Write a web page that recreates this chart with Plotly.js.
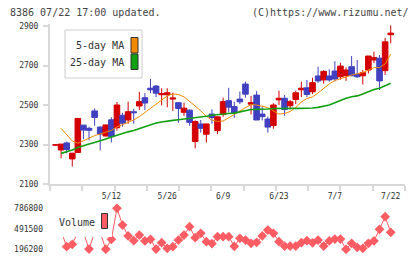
<!DOCTYPE html>
<html><head><meta charset="utf-8">
<script src="https://cdn.plot.ly/plotly-3.0.1.min.js"></script>
<style>html,body{margin:0;padding:0;background:#fff}#c{width:420px;height:259px}</style>
</head><body><div id="c"></div>
<script>
const dates = ['4/23','4/24','4/25','4/28','4/30','5/1','5/2','5/7','5/8','5/9','5/12','5/13','5/14','5/15','5/16','5/19','5/20','5/21','5/22','5/23','5/26','5/27','5/28','5/29','5/30','6/2','6/3','6/4','6/5','6/6','6/9','6/10','6/11','6/12','6/13','6/16','6/17','6/18','6/19','6/20','6/23','6/24','6/25','6/26','6/27','6/30','7/1','7/2','7/3','7/4','7/7','7/8','7/9','7/10','7/11','7/14','7/15','7/16','7/17','7/18','7/22'];
const openP = [2297,2272,2308,2227,2260,2398,2382,2470,2388,2343,2425,2385,2448,2424,2466,2495,2537,2585,2596,2552,2552,2530,2512,2463,2474,2315,2404,2352,2454,2370,2452,2522,2492,2530,2606,2504,2550,2454,2429,2396,2526,2534,2496,2528,2577,2587,2567,2647,2627,2647,2672,2643,2648,2694,2655,2648,2677,2728,2737,2674,2856];
const closeP = [2298,2302,2275,2256,2432,2373,2372,2437,2353,2399,2340,2500,2408,2466,2461,2517,2510,2577,2560,2558,2562,2535,2482,2484,2412,2416,2382,2404,2437,2440,2517,2489,2459,2516,2555,2512,2424,2441,2388,2500,2534,2477,2517,2562,2585,2553,2613,2622,2670,2627,2632,2697,2677,2648,2643,2664,2748,2740,2622,2820,2864];
const highP = [2300,2302,2315,2258,2433,2400,2390,2483,2392,2401,2438,2515,2460,2517,2480,2567,2560,2632,2601,2585,2585,2563,2513,2512,2478,2422,2424,2406,2478,2442,2537,2587,2517,2568,2618,2546,2570,2492,2441,2509,2572,2551,2525,2572,2618,2627,2638,2694,2676,2681,2722,2714,2690,2748,2728,2677,2748,2770,2753,2840,2903];
const lowP = [2295,2230,2255,2188,2258,2327,2322,2395,2270,2341,2310,2370,2390,2405,2405,2475,2475,2560,2540,2498,2488,2470,2410,2445,2395,2280,2360,2310,2405,2353,2440,2462,2435,2505,2537,2452,2424,2422,2360,2380,2500,2446,2478,2505,2540,2540,2555,2612,2608,2618,2620,2628,2622,2646,2638,2604,2660,2712,2576,2652,2812];
const ma5 = [null,2382,2348,2318,2306,2320,2333,2345,2353,2361,2371,2389,2401,2411,2424,2441,2462,2480,2505,2525,2546,2556,2553,2541,2520,2495,2470,2442,2424,2417,2419,2434,2452,2470,2487,2502,2500,2495,2487,2470,2454,2457,2467,2487,2515,2533,2541,2561,2586,2607,2624,2632,2642,2652,2657,2664,2677,2689,2690,2708,2758];
const ma25 = [null,2255,2264,2272,2285,2292,2302,2310,2318,2328,2338,2348,2356,2364,2371,2381,2391,2401,2409,2414,2419,2422,2425,2428,2432,2434,2439,2443,2448,2452,2454,2457,2459,2464,2471,2477,2478,2478,2480,2482,2483,2483,2483,2483,2483,2483,2485,2488,2495,2500,2511,2523,2534,2542,2546,2556,2568,2578,2585,2596,2610];
const volume = [480000,460000,233700,268000,440000,440000,200000,440000,440000,198000,340000,786800,546000,388000,320000,402000,316000,340000,200000,292000,211000,234000,330000,402000,522000,363000,427000,306000,278000,378000,378000,378000,240000,354000,330000,283000,297000,388000,474000,427000,306000,243000,243000,243000,292000,320000,290000,330000,243000,316000,343000,343000,196200,283000,225000,211000,283000,316000,484000,666000,441000];
const priceTicks = [2100,2300,2500,2700,2900];
const volTicks = [196200,491500,786800];
const labelIdx = [10,20,30,40,50,60];
const seriesNames = ['5-day MA','25-day MA','Volume'];

const W=420,H=259;
const fx=p=>p/W, fy=p=>1-p/H;
const xs = dates.map((d,i)=>i);
const xr = [-0.984, 62.555];
const tickPos = Array.from({length:12},(_,k)=>xr[0]+k*(xr[1]-xr[0])/11);
const FONT = 'DejaVu Sans Mono, monospace';
const RED='#d40000', BLUE='#4040c0', ORANGE='#f08a00', GREEN='#10a010', VOL='#ff5c64';

const traces = [
 {type:'candlestick', x:xs, open:openP, high:highP, low:lowP, close:closeP,
  increasing:{line:{color:RED,width:1},fillcolor:RED},
  decreasing:{line:{color:BLUE,width:1},fillcolor:BLUE},
  whiskerwidth:0, xaxis:'x', yaxis:'y', showlegend:false, hoverinfo:'skip'},
 {type:'scatter', mode:'lines', x:xs, y:ma5, line:{color:ORANGE,width:1}, xaxis:'x', yaxis:'y', showlegend:false, hoverinfo:'skip'},
 {type:'scatter', mode:'lines', x:xs, y:ma25, line:{color:GREEN,width:1.6}, xaxis:'x', yaxis:'y', showlegend:false, hoverinfo:'skip'},
 {type:'scatter', mode:'lines+markers', x:xs, y:volume, line:{color:VOL,width:1},
  marker:{symbol:'diamond',size:7.5,color:VOL}, xaxis:'x3', yaxis:'y2', showlegend:false, hoverinfo:'skip'},
 {type:'scatter', mode:'markers', x:[labelIdx[0]], y:[priceTicks[0]], marker:{opacity:0}, xaxis:'x2', yaxis:'y', showlegend:false, hoverinfo:'skip'}
];

const tickFont = {family:FONT,size:8,color:'#333'};
const layout = {
 width:W, height:H, margin:{l:0,r:0,t:0,b:0,pad:0,autoexpand:false},
 paper_bgcolor:'#fff', plot_bgcolor:'rgba(0,0,0,0)', showlegend:false,
 boxgap:0, boxgroupgap:0,
 xaxis:{range:xr, domain:[fx(50),fx(405)], anchor:'y', tickmode:'array', tickvals:tickPos, ticktext:tickPos.map(()=>''),
   ticks:'outside', ticklen:5, tickcolor:'#d8d8d8', tickwidth:2, showline:true, linecolor:'#d8d8d8', linewidth:2,
   showgrid:false, zeroline:false, rangeslider:{visible:false}, fixedrange:true},
 xaxis2:{range:xr, overlaying:'x', anchor:'y', side:'bottom', tickmode:'array', tickvals:labelIdx, ticktext:labelIdx.map(i=>dates[i]),
   ticks:'', showline:false, showgrid:false, zeroline:false, tickfont:tickFont, ticklabelstandoff:6, fixedrange:true},
 yaxis:{range:[2100,2910.1], domain:[fy(184),fy(24)], anchor:'x', tickmode:'array', tickvals:priceTicks,
   ticks:'outside', ticklen:5, tickcolor:'#d8d8d8', tickwidth:2, showline:true, linecolor:'#d8d8d8', linewidth:2,
   showgrid:false, zeroline:false, tickfont:tickFont, ticklabelstandoff:3, fixedrange:true},
 xaxis3:{range:xr, domain:[fx(50),fx(405)], anchor:'y2', showticklabels:false, ticks:'', showline:false, showgrid:false, zeroline:false, fixedrange:true},
 yaxis2:{range:[128500,863150], domain:[fy(254),fy(203)], anchor:'x3', tickmode:'array', tickvals:volTicks, ticktext:volTicks.map(v=>String(v)),
   ticks:'', showline:false, showgrid:false, zeroline:false, tickfont:tickFont, ticklabelstandoff:6, fixedrange:true},
 shapes:[
  {type:'rect', xref:'paper', yref:'paper', x0:fx(65), x1:fx(142), y0:fy(78), y1:fy(30), fillcolor:'#fff', line:{color:'#cccccc',width:1}, layer:'above'},
  {type:'rect', xref:'paper', yref:'paper', x0:fx(131), x1:fx(138), y0:fy(53), y1:fy(37.5), fillcolor:ORANGE, line:{color:'#333',width:1}, layer:'above'},
  {type:'rect', xref:'paper', yref:'paper', x0:fx(131), x1:fx(138), y0:fy(69.5), y1:fy(54), fillcolor:GREEN, line:{color:'#333',width:1}, layer:'above'},
  {type:'rect', xref:'paper', yref:'paper', x0:fx(46), x1:fx(112), y0:fy(237), y1:fy(203), fillcolor:'#fff', line:{width:0}, layer:'above'},
  {type:'rect', xref:'paper', yref:'paper', x0:fx(101.5), x1:fx(107.5), y0:fy(228.5), y1:fy(213.5), fillcolor:VOL, line:{color:'#333',width:1}, layer:'above'}
 ],
 annotations:[
  {xref:'paper', yref:'paper', x:fx(8), y:fy(12), xanchor:'left', yanchor:'middle', text:'8386 07/22 17:00 updated.', showarrow:false, font:{family:FONT,size:10,color:'#444'}},
  {xref:'paper', yref:'paper', x:fx(411), y:fy(12), xanchor:'right', yanchor:'middle', text:'(C)https://www.rizumu.net/', showarrow:false, font:{family:FONT,size:10,color:'#444'}},
  {xref:'paper', yref:'paper', x:fx(126), y:fy(46), xanchor:'right', yanchor:'middle', text:seriesNames[0], showarrow:false, font:{family:FONT,size:10,color:'#333'}},
  {xref:'paper', yref:'paper', x:fx(126), y:fy(62.5), xanchor:'right', yanchor:'middle', text:seriesNames[1], showarrow:false, font:{family:FONT,size:10,color:'#333'}},
  {xref:'paper', yref:'paper', x:fx(57), y:fy(222), xanchor:'left', yanchor:'middle', text:seriesNames[2], showarrow:false, font:{family:FONT,size:10,color:'#333'}}
 ]
};
Plotly.newPlot('c', traces, layout, {staticPlot:true, displayModeBar:false});
</script></body></html>
